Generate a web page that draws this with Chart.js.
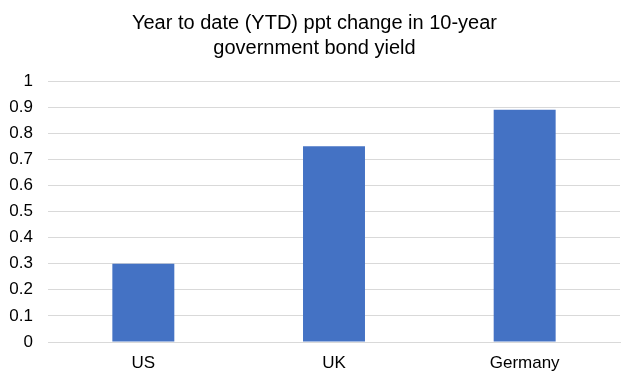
<!DOCTYPE html>
<html lang="en">
<head>
  <meta charset="UTF-8">
  <title>YTD bond yield change</title>
  <script src="https://cdn.jsdelivr.net/npm/chart.js"></script>
  <style>
    body { margin: 0; background: #fff; }
    #box { width: 621px; height: 378px; }
  </style>
</head>
<body>
  <div id="box"><canvas id="barChart"></canvas></div>
  <script>
    const countries = ["US", "UK", "Germany"];
    const ytdChange = [0.3, 0.75, 0.89];
    const titleLines = ["Year to date (YTD) ppt change in 10-year", "government bond yield"];

    new Chart(document.getElementById("barChart"), {
      type: "bar",
      data: {
        labels: countries,
        datasets: [{
          data: ytdChange,
          backgroundColor: "#4472C4",
          barPercentage: 0.325,
          categoryPercentage: 1
        }]
      },
      options: {
        responsive: true,
        maintainAspectRatio: false,
        animation: false,
        layout: { padding: { left: 9, right: 1, top: 5, bottom: 0 } },
        plugins: {
          legend: { display: false },
          tooltip: { enabled: false },
          title: {
            display: true,
            text: titleLines,
            color: "#000",
            font: { family: "Liberation Sans, Arial, sans-serif", size: 20, weight: "normal", lineHeight: 1.25 },
            padding: { top: 6, bottom: 20 }
          }
        },
        scales: {
          y: {
            min: 0,
            max: 1,
            afterFit: axis => { axis.width = 39; },
            ticks: {
              stepSize: 0.1,
              color: "#000",
              padding: 15,
              font: { family: "Liberation Sans, Arial, sans-serif", size: 17 },
              callback: v => String(Math.round(v * 10) / 10)
            },
            grid: { color: "#d9d9d9", drawTicks: false },
            border: { display: false }
          },
          x: {
            afterFit: axis => { axis.height = 36; },
            ticks: {
              color: "#000",
              padding: 3,
              font: { family: "Liberation Sans, Arial, sans-serif", size: 17 }
            },
            grid: { display: false },
            border: { color: "#d9d9d9" }
          }
        }
      }
    });
  </script>
</body>
</html>
